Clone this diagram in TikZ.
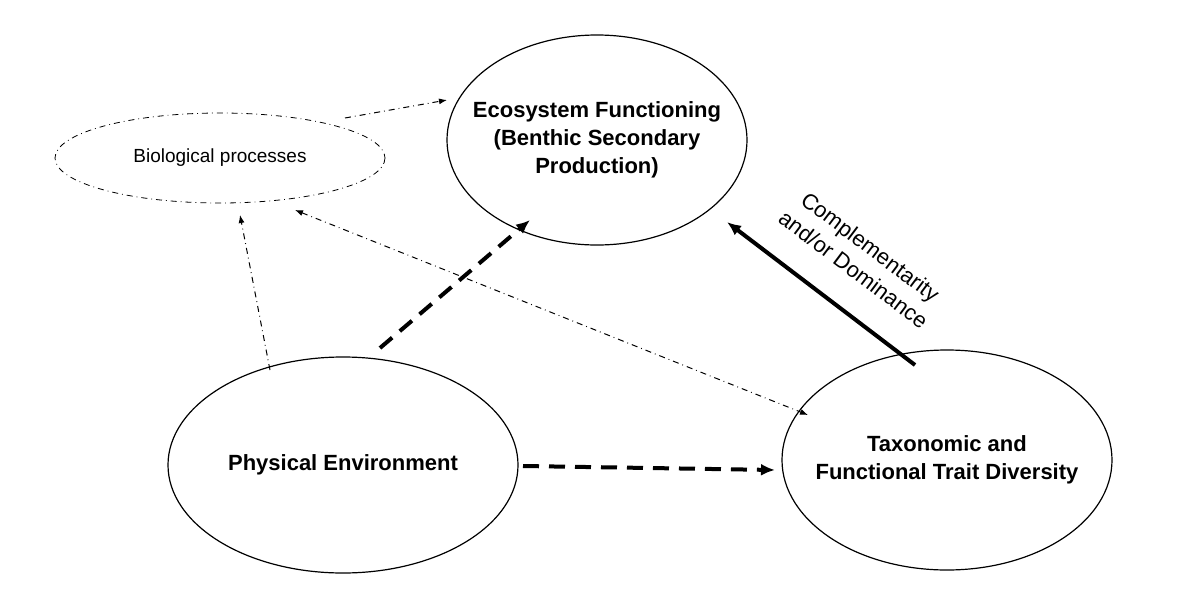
\documentclass[tikz,border=0pt]{standalone}
\usepackage{fontspec}
\setmainfont{Liberation Sans}
\usetikzlibrary{shapes.geometric,arrows.meta}
\begin{document}
\begin{tikzpicture}[x=0.5pt,y=-0.5pt,
  txt/.style={inner sep=0pt,align=center,font=\bfseries\fontsize{11}{14}\selectfont},
  eline/.style={line width=0.6pt},
  dd/.style={dash dot,line width=0.5pt,-{Latex[length=4pt,width=3pt]}},
  thd/.style={dash pattern=on 8pt off 5pt,line width=2pt,-{Latex[length=7pt,width=6pt]}}]
\useasboundingbox (0,0) rectangle (1200,600);
\node[txt] (eco) at (597,140) {Ecosystem Functioning\\(Benthic Secondary\\Production)};
\draw[eline] (eco.center) ellipse (150 and 105);
\node[txt,font=\fontsize{9.5}{11}\selectfont] (bio) at (220,158) {Biological processes};
\draw[line width=0.4pt,dash dot] (bio.center) ellipse (165 and 45);
\node[txt] (phy) at (343,465) {Physical Environment};
\draw[eline] (phy.center) ellipse (175 and 108);
\node[txt] (tax) at (947,460) {Taxonomic and\\Functional Trait Diversity};
\draw[eline] (tax.center) ellipse (165 and 110);
\coordinate (b1) at (345,118); \coordinate (e1) at (447,100);
\draw[dd] (b1) -- (e1);
\coordinate (p1) at (270,370); \coordinate (b2) at (240,215);
\draw[dd] (p1) -- (b2);
\coordinate (b3) at (295,210); \coordinate (t1) at (808,415);
\draw[dd,{Latex[length=4pt,width=3pt]}-{Latex[length=4pt,width=3pt]}] (b3) -- (t1);
\coordinate (p2) at (380,348); \coordinate (e2) at (530,220);
\draw[thd] (p2) -- (e2);
\coordinate (p3) at (523,466); \coordinate (t2) at (775,470);
\draw[thd] (p3) -- (t2);
\coordinate (t3) at (915,365); \coordinate (e3) at (727,222);
\draw[line width=2pt,-{Latex[length=7pt,width=6pt]}] (t3) -- (e3);
\node[rotate=-37,align=center,font=\fontsize{11}{14}\selectfont] (lab) at (862,258) {Complementarity\\and/or Dominance};
\end{tikzpicture}
\end{document}
